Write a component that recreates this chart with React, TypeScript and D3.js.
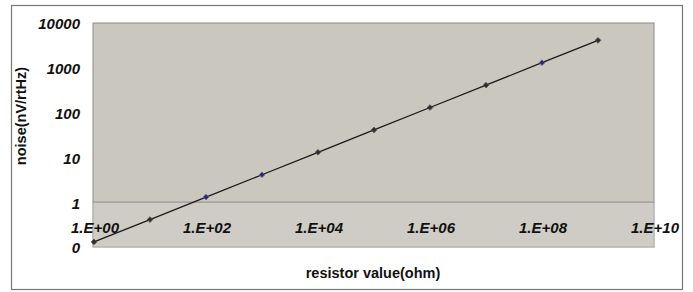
import { useRef, useEffect } from "react";
import * as d3 from "d3";

const resistors = [1, 1e1, 1e2, 1e3, 1e4, 1e5, 1e6, 1e7, 1e8, 1e9];
const noise = [0.13, 0.41, 1.3, 4.1, 13, 41, 130, 410, 1300, 4100];
const yTicks = [0.1, 1, 10, 100, 1000, 10000];
const yTickLabels = ["0", "1", "10", "100", "1000", "10000"];
const xTicks = [1, 1e2, 1e4, 1e6, 1e8, 1e10];
const xTickLabels = ["1.E+00", "1.E+02", "1.E+04", "1.E+06", "1.E+08", "1.E+10"];

export default function App() {
    const svgRef = useRef<SVGSVGElement>(null);

    useEffect(() => {
        if (!svgRef.current) return;
        const svg = d3.select(svgRef.current);
        svg.selectAll("*").remove();

        const width = 693;
        const height = 292;
        const plot = { left: 93, right: 654, top: 23, bottom: 247 };

        const x = d3.scaleLog().domain([1, 1e10]).range([94, 654]);
        const y = d3.scaleLog().domain([0.1, 10000]).range([plot.bottom, plot.top]);

        svg.attr("width", width).attr("height", height);

        // outer frame
        svg.append("rect")
            .attr("x", 11.5).attr("y", 5.5)
            .attr("width", 671).attr("height", 284)
            .attr("fill", "white")
            .attr("stroke", "#777").attr("stroke-width", 1.2);

        // plot area
        svg.append("rect")
            .attr("x", plot.left).attr("y", plot.top)
            .attr("width", plot.right - plot.left).attr("height", plot.bottom - plot.top)
            .attr("fill", "#cac7bf")
            .attr("stroke", "#8c8c8c").attr("stroke-width", 1);

        svg.append("rect")
            .attr("x", plot.left + 0.5).attr("y", y(1))
            .attr("width", plot.right - plot.left - 1).attr("height", plot.bottom - y(1) - 0.5)
            .attr("fill", "#cfccc5");

        // x axis line at y = 1
        svg.append("line")
            .attr("x1", plot.left).attr("x2", plot.right)
            .attr("y1", y(1)).attr("y2", y(1))
            .attr("stroke", "#9a9896").attr("stroke-width", 1.2);

        const font = "Arial, 'Liberation Sans', sans-serif";

        svg.append("g")
            .selectAll("text")
            .data(yTicks)
            .enter()
            .append("text")
            .attr("x", 80)
            .attr("y", (d) => y(d) + 1)
            .attr("dy", "0.36em")
            .attr("text-anchor", "end")
            .attr("font-family", font)
            .attr("font-size", 15)
            .attr("font-weight", "bold")
            .attr("font-style", "italic")
            .attr("fill", "#111")
            .text((_, i) => yTickLabels[i]);

        svg.append("g")
            .selectAll("text")
            .data(xTicks)
            .enter()
            .append("text")
            .attr("x", (d) => x(d) + 1)
            .attr("y", 233)
            .attr("text-anchor", "middle")
            .attr("font-family", font)
            .attr("font-size", 15)
            .attr("font-weight", "bold")
            .attr("font-style", "italic")
            .attr("fill", "#111")
            .text((_, i) => xTickLabels[i]);

        const pts = resistors.map((r, i) => [r, noise[i]] as [number, number]);

        const line = d3.line<[number, number]>()
            .x((d) => x(d[0]))
            .y((d) => y(d[1]));

        svg.append("path")
            .datum(pts)
            .attr("d", line)
            .attr("fill", "none")
            .attr("stroke", "#1a1a1a")
            .attr("stroke-width", 1.3);

        // blue-ish tint on a few markers as in the scan
        const tinted = [2, 3, 8];
        svg.append("g")
            .selectAll("path")
            .data(pts)
            .enter()
            .append("path")
            .attr("d", d3.symbol(d3.symbolSquare, 16)())
            .attr("transform", (d) => `translate(${x(d[0])},${y(d[1])}) rotate(45)`)
            .attr("fill", (_, i) => (tinted.includes(i) ? "#2c2a5a" : "#2e2e2e"))
            .attr("stroke", (_, i) => (tinted.includes(i) ? "#6a62c0" : "#555"))
            .attr("stroke-width", 0.8);

        svg.append("text")
            .attr("x", 373)
            .attr("y", 278)
            .attr("text-anchor", "middle")
            .attr("font-family", font)
            .attr("font-size", 14.5)
            .attr("font-weight", "bold")
            .attr("fill", "#111")
            .text("resistor value(ohm)");

        svg.append("text")
            .attr("transform", "translate(26,116) rotate(-90)")
            .attr("text-anchor", "middle")
            .attr("font-family", font)
            .attr("font-size", 14.5)
            .attr("font-weight", "bold")
            .attr("fill", "#111")
            .text("noise(nV/rtHz)");
    }, []);

    return <svg ref={svgRef} style={{ position: "absolute", left: 0, top: 0 }} />;
}
